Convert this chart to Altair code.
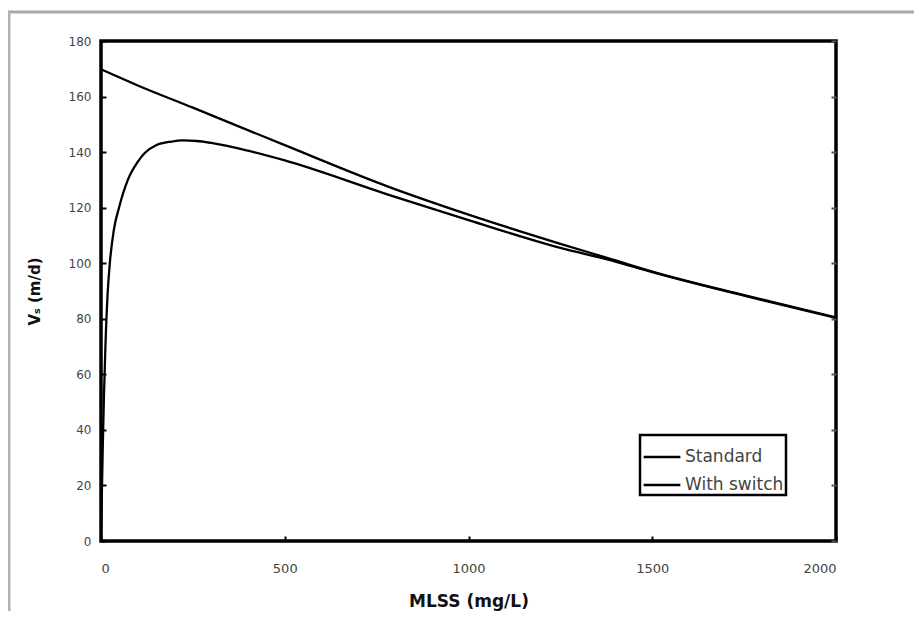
import altair as alt
import pandas as pd

# Data
std_x = [0, 100, 250, 500, 783, 1000, 1250, 1388, 1500, 1750, 2000]
std_y = [169.8, 164.0, 156.0, 142.5, 127.5, 117.5, 107.0, 101.5, 97.0, 88.5, 80.5]

sw_x = [0, 2, 5, 8, 12, 18, 24, 35, 49, 73, 100, 119, 150, 192, 222, 260, 300,
        400, 500, 783, 1000, 1250, 1388, 1500, 1750, 2000]
sw_y = [0, 15, 35, 52, 70, 89, 100, 112, 120, 130, 136.5, 139.7, 142.5, 143.8,
        144.2, 144.0, 143.3, 140.5, 137.0, 124.6, 115.5, 105.5, 101.0, 96.8, 88.3, 80.3]

series_names = ["Standard", "With switch"]
x_ticks = [0, 500, 1000, 1500, 2000]
y_ticks = [0, 20, 40, 60, 80, 100, 120, 140, 160, 180]

df_std = pd.DataFrame({"x": std_x, "y": std_y, "series": series_names[0]})
df_sw = pd.DataFrame({"x": sw_x, "y": sw_y, "series": series_names[1]})

W, H = 735, 500
FONT = "DejaVu Sans"

xscale = alt.Scale(domain=[0, 2000], nice=False, zero=False)
yscale = alt.Scale(domain=[0, 180], nice=False, zero=False)
color = alt.Color(
    "series:N",
    scale=alt.Scale(domain=series_names, range=["black", "black"]),
    legend=alt.Legend(
        title=None, orient="none", legendX=539, legendY=394,
        symbolType="stroke", symbolSize=1350, symbolStrokeWidth=2.4,
        strokeColor="black", padding=2, rowPadding=-2,
        labelFont=FONT, labelFontSize=17, labelColor="#444", labelOffset=3,
    ),
)

left_axis = alt.Axis(
    values=y_ticks, orient="left", grid=False, domain=False,
    tickSize=5, tickWidth=2, tickColor="black", offset=-5,
    labelPadding=10, labelFont=FONT, labelFontSize=12, labelColor="#444",
    title="Vₛ (m/d)", titleFont=FONT, titleFontSize=15, titleFontWeight="bold",
    titleX=-64, titleY=250, titleColor="#111",
)
right_axis = alt.Axis(
    values=y_ticks, orient="right", grid=False, domain=False,
    tickSize=5, tickWidth=2, tickColor="#555", offset=-5,
    labels=False, title=None,
)
bottom_axis = alt.Axis(
    values=x_ticks, orient="bottom", grid=False, domain=False, format="d",
    tickSize=5, tickWidth=2, tickColor="black", offset=-5,
    labelPadding=21, labelFont=FONT, labelFontSize=13, labelColor="#444",
    title="MLSS (mg/L)", titleFont=FONT, titleFontSize=17, titleFontWeight="bold",
    titleY=57, titleColor="#111",
)

line_std = alt.Chart(df_std).mark_line(
    strokeWidth=2.3, interpolate="monotone", clip=True
).encode(
    x=alt.X("x:Q", scale=xscale, axis=bottom_axis),
    y=alt.Y("y:Q", scale=yscale, axis=left_axis),
    color=color,
)
line_sw = alt.Chart(df_sw).mark_line(
    strokeWidth=2.3, interpolate="monotone", clip=True
).encode(
    x=alt.X("x:Q", scale=xscale),
    y=alt.Y("y:Q", scale=yscale, axis=right_axis),
    color=color,
)

frame_df = pd.DataFrame({"k": [0]})
border_top = alt.Chart(frame_df).mark_rule(color="#a8a8a8", strokeWidth=3).encode(
    x=alt.value(-93), x2=alt.value(W + 100), y=alt.value(-29)
)
border_left = alt.Chart(frame_df).mark_rule(color="#b0b0b0", strokeWidth=3).encode(
    x=alt.value(-92), y=alt.value(-29), y2=alt.value(H + 150)
)

chart = alt.layer(line_std, line_sw, border_top, border_left).resolve_scale(
    y="independent"
).properties(
    width=W, height=H,
    autosize=alt.AutoSizeParams(type="none"),
    padding={"left": 93, "top": 33, "right": 78, "bottom": 70},
).configure(
    background="white"
).configure_view(
    stroke="black", strokeWidth=3.5
).configure_legend(
    strokeWidth=2.5
)

chart.save("out.html", embed_options={"renderer": "svg", "actions": False})
